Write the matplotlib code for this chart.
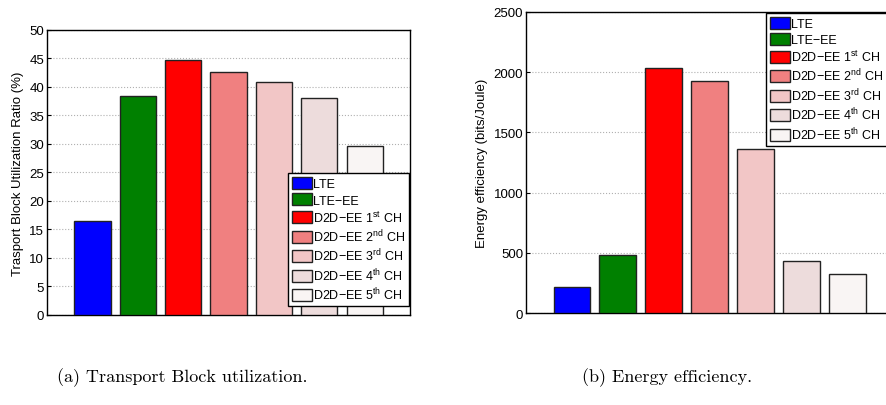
import matplotlib.pyplot as plt
import numpy as np

plt.rcParams['font.family'] = 'Liberation Sans'
plt.rcParams['mathtext.default'] = 'regular'

# schemes shown in both panels
schemes = ['LTE', 'LTE\u2212EE',
           'D2D\u2212EE 1$^{st}$ CH', 'D2D\u2212EE 2$^{nd}$ CH',
           'D2D\u2212EE 3$^{rd}$ CH', 'D2D\u2212EE 4$^{th}$ CH',
           'D2D\u2212EE 5$^{th}$ CH']
colors = ['#0000ff', '#008000', '#ff0000', '#f08080',
          '#f2c6c6', '#eddcdc', '#f9f5f4']

# transport block utilization ratio (%)
tb_util = [16.5, 38.4, 44.7, 42.7, 40.8, 38.0, 29.7]
# energy efficiency (bits/Joule)
energy_eff = [215, 480, 2035, 1925, 1365, 433, 323]


def draw_bars(ax, values, ylim, yticks, ylabel, labelsize):
    x = np.arange(1, len(values) + 1)
    bars = ax.bar(x, values, 0.8, color=colors, edgecolor='#222222',
                  linewidth=1.0, zorder=3)
    ax.set_xlim(0, 8)
    ax.set_ylim(*ylim)
    ax.set_xticks([])
    ax.set_yticks(yticks)
    ax.yaxis.grid(True, linestyle=':', color='#b0b0b0', linewidth=0.8, zorder=0)
    ax.tick_params(axis='y', direction='in', length=3, labelsize=9.5, pad=2)
    ax.set_ylabel(ylabel, fontsize=labelsize, labelpad=4)
    for s in ax.spines.values():
        s.set_linewidth(1.0)
    return bars


fig = plt.figure(figsize=(8.87, 4.06), dpi=100)

ax1 = fig.add_axes([0.053, 0.2217, 0.4093, 0.702])
b1 = draw_bars(ax1, tb_util, (0, 50), range(0, 51, 5),
               'Trasport Block Utilization Ratio (%)', 9.5)

ax2 = fig.add_axes([0.593, 0.2266, 0.4138, 0.7414])
b2 = draw_bars(ax2, energy_eff, (0, 2500), range(0, 2501, 500),
               'Energy efficiency (bits/Joule)', 9.5)

leg_kw = dict(fontsize=9, handlelength=1.6, handleheight=1.1,
              labelspacing=0.23, handletextpad=0.1, borderpad=0.3,
              borderaxespad=0, fancybox=False, framealpha=1,
              edgecolor='black', bbox_transform=fig.transFigure)
l1 = ax1.legend(b1, schemes, loc='lower right',
                bbox_to_anchor=(0.461, 0.243), **leg_kw)
l2 = ax2.legend(b2, schemes, loc='upper right',
                bbox_to_anchor=(1.0, 0.966), **leg_kw)
for leg in (l1, l2):
    leg.get_frame().set_linewidth(1.0)
    leg.set_zorder(5)

# sub-figure captions
fig.text(0.205, 0.069, '(a) Transport Block utilization.', family='cmr10',
         fontsize=13, ha='center', va='center')
fig.text(0.752, 0.069, '(b) Energy efficiency.', family='cmr10',
         fontsize=13, ha='center', va='center')

fig.savefig('out.png', dpi=100)
